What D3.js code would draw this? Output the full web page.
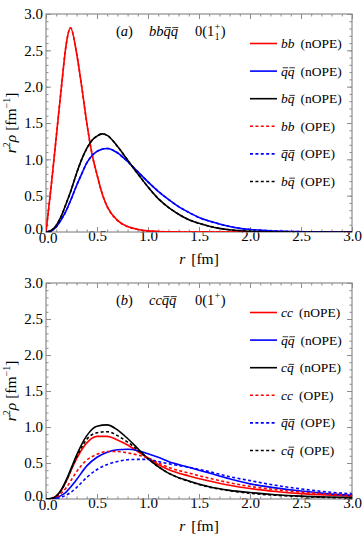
<!DOCTYPE html>
<html>
<head>
<meta charset="utf-8">
<script src="https://cdn.jsdelivr.net/npm/d3@7"></script>
<style>
  body { margin: 0; background: #fff; }
  svg { display: block; }
  svg text { font-family: "Liberation Serif", "DejaVu Serif", serif !important; fill: #000; }
</style>
</head>
<body>
<svg id="chart" width="363" height="545"></svg>
<script>
// r grid [fm] for panel (a)
var rA = [0, 0.05, 0.1, 0.15, 0.2, 0.24, 0.3, 0.35, 0.4, 0.45, 0.5, 0.55, 0.6, 0.7, 0.8, 0.9,
          1.0, 1.1, 1.2, 1.3, 1.4, 1.5, 1.6, 1.7, 1.8, 1.9, 2.0, 2.2, 2.4, 2.6, 2.8, 3.0];
// panel (a) bbqq 0(1+) -- OPE curves sit on top of nOPE ones
var bbA   = [0, 0.62, 1.3, 1.98, 2.6, 2.81, 2.46, 2.0, 1.5, 1.08, 0.79, 0.53, 0.35, 0.16, 0.075, 0.035,
             0.015, 0.007, 0.003, 0.001, 0, 0, 0, 0, 0, 0, 0, 0, 0, 0, 0, 0];
var qqA   = [0, 0.015, 0.07, 0.17, 0.3, 0.43, 0.64, 0.8, 0.95, 1.05, 1.11, 1.14, 1.15, 1.09, 0.97, 0.83,
             0.69, 0.56, 0.45, 0.35, 0.27, 0.2, 0.15, 0.11, 0.075, 0.05, 0.035, 0.016, 0.007, 0.003, 0.001, 0];
var bqA   = [0, 0.02, 0.09, 0.22, 0.4, 0.55, 0.81, 1.0, 1.15, 1.26, 1.32, 1.35, 1.33, 1.18, 0.99, 0.8,
             0.62, 0.46, 0.34, 0.245, 0.17, 0.12, 0.08, 0.05, 0.03, 0.018, 0.01, 0.003, 0.001, 0, 0, 0];
var bbA_ope = bbA.slice();
var qqA_ope = qqA.slice();
var bqA_ope = bqA.slice();

// r grid [fm] for panel (b)
var rB = [0, 0.05, 0.1, 0.15, 0.2, 0.25, 0.3, 0.4, 0.5, 0.6, 0.7, 0.8, 0.9, 1.0, 1.1, 1.2,
          1.4, 1.6, 1.8, 2.0, 2.25, 2.5, 2.75, 3.0];
// panel (b) ccqq 0(1+)
var ccB     = [0, 0.005, 0.04, 0.12, 0.25, 0.41, 0.56, 0.78, 0.87, 0.87, 0.82, 0.75, 0.66, 0.57, 0.48, 0.41,
               0.32, 0.25, 0.19, 0.145, 0.105, 0.075, 0.055, 0.04];
var qqB     = [0, 0.002, 0.015, 0.05, 0.1, 0.18, 0.27, 0.46, 0.58, 0.65, 0.685, 0.69, 0.67, 0.63, 0.58, 0.52,
               0.44, 0.36, 0.28, 0.21, 0.155, 0.11, 0.075, 0.05];
var cqB     = [0, 0.005, 0.04, 0.13, 0.27, 0.44, 0.61, 0.88, 1.01, 1.03, 0.96, 0.84, 0.7, 0.56, 0.45, 0.36,
               0.25, 0.17, 0.12, 0.09, 0.06, 0.04, 0.028, 0.02];
var ccB_ope = [0, 0.003, 0.025, 0.08, 0.16, 0.27, 0.38, 0.54, 0.62, 0.66, 0.66, 0.64, 0.61, 0.57, 0.5, 0.44,
               0.36, 0.29, 0.225, 0.175, 0.13, 0.095, 0.07, 0.05];
var qqB_ope = [0, 0.001, 0.008, 0.025, 0.055, 0.1, 0.16, 0.3, 0.41, 0.48, 0.52, 0.545, 0.55, 0.55, 0.52, 0.49,
               0.44, 0.38, 0.31, 0.255, 0.19, 0.14, 0.1, 0.07];
var cqB_ope = [0, 0.005, 0.04, 0.12, 0.26, 0.42, 0.58, 0.83, 0.92, 0.935, 0.88, 0.79, 0.68, 0.56, 0.45, 0.36,
               0.245, 0.165, 0.115, 0.08, 0.052, 0.035, 0.022, 0.015];

// legend labels: [italic part, plain part]; "~" marks an antiquark (overbar)
var legendA = [["bb", "(nOPE)"], ["~q~q", "(nOPE)"], ["b~q", "(nOPE)"],
               ["bb", "(OPE)"], ["~q~q", "(OPE)"], ["b~q", "(OPE)"]];
var legendB = [["cc", "(nOPE)"], ["~q~q", "(nOPE)"], ["c~q", "(nOPE)"],
               ["cc", "(OPE)"], ["~q~q", "(OPE)"], ["c~q", "(OPE)"]];

var xTicks = [0, 0.5, 1.0, 1.5, 2.0, 2.5, 3.0];
var yTicks = [0, 0.5, 1.0, 1.5, 2.0, 2.5, 3.0];

var colors = ["#ff0000", "#0000ff", "#000000", "#ff0000", "#0000ff", "#000000"];
var dashes = [null, null, null, "3,2.4", "3,2.4", "3,2.4"];

var svg = d3.select("#chart");
var frameColor = "#8c8c8c";
var SERIF = "Liberation Serif";

// italic math text with overbars where "~" precedes a letter
function mathText(g, xPos, yPos, size, spec) {
    var chars = [], bars = [];
    for (var i = 0; i < spec.length; i++) {
        if (spec[i] == "~") { bars.push(chars.length); continue; }
        chars.push(spec[i]);
    }
    var t = g.append("text").attr("x", xPos).attr("y", yPos).attr("font-size", size)
        .attr("font-style", "italic").text(chars.join(""));
    bars.forEach(function (k) {
        var e = t.node().getExtentOfChar(k);
        var by = yPos - size * 0.58;
        g.append("line")
            .attr("x1", e.x + 1.6).attr("x2", e.x + e.width + 0.4)
            .attr("y1", by).attr("y2", by)
            .attr("stroke", "#000").attr("stroke-width", 0.8);
    });
    return t;
}

function drawPanel(top, bottom, r, series, legend, title) {
    var g = svg.append("g").attr("font-family", SERIF);
    var x = d3.scaleLinear().domain([0, 3]).range([46, 352]);
    var y = d3.scaleLinear().domain([0, 3]).range([bottom, top]);

    // minor + major ticks on all four sides, pointing in
    var minor = d3.range(0, 3.001, 0.1).map(function (v) { return Math.round(v * 10) / 10; });
    function tickAxis(axisFn, scale, pos, vals, len, horiz) {
        g.append("g").attr("transform", horiz ? "translate(0," + pos + ")" : "translate(" + pos + ",0)")
            .call(axisFn(scale).tickValues(vals).tickSize(-len).tickFormat(""))
            .call(function (a) { a.select(".domain").remove(); a.selectAll("line").attr("stroke", frameColor); });
    }
    tickAxis(d3.axisBottom, x, bottom, minor, 2.5, true);
    tickAxis(d3.axisBottom, x, bottom, xTicks, 5, true);
    tickAxis(d3.axisTop, x, top, minor, 2.5, true);
    tickAxis(d3.axisTop, x, top, xTicks, 5, true);
    tickAxis(d3.axisLeft, y, 46, minor, 2.5, false);
    tickAxis(d3.axisLeft, y, 46, yTicks, 5, false);
    tickAxis(d3.axisRight, y, 352, minor, 2.5, false);
    tickAxis(d3.axisRight, y, 352, yTicks, 5, false);

    // tick labels
    g.append("g").attr("transform", "translate(0," + bottom + ")")
        .call(d3.axisBottom(x).tickValues(xTicks).tickSize(0).tickPadding(-2).tickFormat(d3.format(".1f")))
        .call(function (a) {
            a.attr("font-family", SERIF).attr("font-size", 15);
            a.select(".domain").remove();
            a.selectAll(".tick").filter(function (d) { return d === 0; }).select("text")
                .attr("dx", 1.5).attr("y", 0);
        });
    g.append("g").attr("transform", "translate(46,0)")
        .call(d3.axisLeft(y).tickValues(yTicks).tickSize(0).tickPadding(3).tickFormat(d3.format(".1f")))
        .call(function (a) {
            a.attr("font-family", SERIF).attr("font-size", 15);
            a.select(".domain").remove();
            a.selectAll(".tick").filter(function (d) { return d === 0; }).select("text").attr("dy", "0.12em");
        });

    // frame
    g.append("rect").attr("x", 46).attr("y", top).attr("width", 306).attr("height", bottom - top)
        .attr("fill", "none").attr("stroke", frameColor).attr("stroke-width", 1.2);

    // curves
    var clipId = "clip" + top;
    g.append("clipPath").attr("id", clipId).append("rect")
        .attr("x", 46).attr("y", top).attr("width", 306).attr("height", bottom - top);
    var line = d3.line()
        .x(function (d) { return x(d[0]); })
        .y(function (d) { return y(d[1]); })
        .curve(d3.curveMonotoneX);
    series.forEach(function (vals, i) {
        g.append("path")
            .attr("clip-path", "url(#" + clipId + ")")
            .attr("d", line(r.map(function (rv, j) { return [rv, vals[j]]; })))
            .attr("fill", "none")
            .attr("stroke", colors[i])
            .attr("stroke-width", 1.6)
            .attr("stroke-dasharray", dashes[i]);
    });

    // legend
    var ly0 = top + 29.5, ldy = 27.6;
    legend.forEach(function (lab, i) {
        var yy = ly0 + i * ldy;
        g.append("line").attr("x1", 250).attr("x2", 277).attr("y1", yy).attr("y2", yy)
            .attr("stroke", colors[i]).attr("stroke-width", 1.6).attr("stroke-dasharray", dashes[i]);
        var m = mathText(g, 281, yy + 4.5, 13.5, lab[0]);
        var w = m.node().getComputedTextLength();
        g.append("text").attr("x", 281 + w + 6).attr("y", yy + 4.5).attr("font-size", 13.5).text(lab[1]);
    });

    // panel title
    var ty = top + 22, fs = 14.5;
    var t1 = g.append("text").attr("x", 116).attr("y", ty).attr("font-size", fs);
    t1.append("tspan").text("(");
    t1.append("tspan").attr("font-style", "italic").text(title[0]);
    t1.append("tspan").text(")");
    mathText(g, 149, ty, fs, title[1]);
    var t3 = g.append("text").attr("x", 195).attr("y", ty).attr("font-size", fs).text("0(1");
    var sx = 195 + t3.node().getComputedTextLength() + 0.5;
    g.append("text").attr("x", sx).attr("y", ty - 6.5).attr("font-size", 9.5).text("+");
    if (title[2]) {
        g.append("text").attr("x", sx).attr("y", ty + 4).attr("font-size", 9.5).text(title[2]);
    }
    g.append("text").attr("x", sx + 6).attr("y", ty).attr("font-size", fs).text(")");

    // axis titles
    var yl = g.append("text")
        .attr("transform", "translate(16," + ((top + bottom) / 2) + ") rotate(-90)")
        .attr("text-anchor", "middle").attr("font-size", 15.5);
    yl.append("tspan").attr("font-style", "italic").text("r");
    yl.append("tspan").attr("font-size", 10).attr("dy", -6).text("2");
    yl.append("tspan").attr("font-style", "italic").attr("dy", 6).text("\u03C1");
    yl.append("tspan").attr("dx", 4).text("[fm");
    yl.append("tspan").attr("font-size", 10).attr("dy", -6).text("\u22121");
    yl.append("tspan").attr("dy", 6).text("]");

    var xl = g.append("text").attr("x", 199).attr("y", bottom + 32)
        .attr("text-anchor", "middle").attr("font-size", 15.5);
    xl.append("tspan").attr("font-style", "italic").text("r");
    xl.append("tspan").attr("dx", 6).text("[fm]");
}

drawPanel(14, 232, rA, [bbA, qqA, bqA, bbA_ope, qqA_ope, bqA_ope], legendA,
          ["a", "bb~q~q", "1"]);
drawPanel(283, 499, rB, [ccB, qqB, cqB, ccB_ope, qqB_ope, cqB_ope], legendB,
          ["b", "cc~q~q", null]);
</script>
</body>
</html>
